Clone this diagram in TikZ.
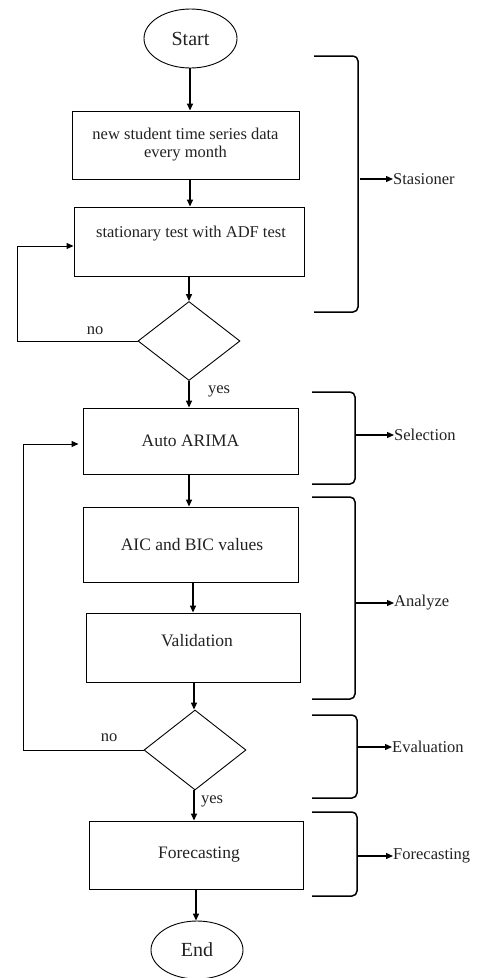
\documentclass[tikz,border=0pt]{standalone}
\usepackage{fontspec}
\setmainfont{Liberation Serif}
\usetikzlibrary{shapes.geometric,arrows.meta}
\definecolor{ink}{HTML}{222222}
\begin{document}
\begin{tikzpicture}[x=1pt,y=-1pt,
  box/.style={draw, line width=0.9pt, inner sep=0pt, align=center, text=ink,
              font=\fontsize{17.5}{20}\selectfont},
  term/.style={draw, ellipse, line width=0.9pt, inner sep=0pt, text=ink,
               font=\fontsize{20}{24}\selectfont},
  decision/.style={draw, diamond, line width=0.9pt, inner sep=0pt},
  flow/.style={line width=1.4pt, -{Triangle[length=7pt,width=6pt]}},
  back/.style={line width=1pt, -{Triangle[length=7pt,width=6pt]}},
  brace/.style={line width=1.5pt, rounded corners=5pt},
  lbl/.style={inner sep=0pt, text=ink, font=\fontsize{16.5}{18}\selectfont},
  tag/.style={anchor=west, inner sep=0pt, text=ink, font=\fontsize{16.5}{18}\selectfont}]
\useasboundingbox (0,0) rectangle (477,978);

% main flow
\node[term, minimum width=93pt, minimum height=59pt] (start) at (190.5,38.5) {Start};
\node[box, minimum width=227pt, minimum height=68pt, font=\fontsize{16.5}{18}\selectfont] (b1) at (185.5,145)
  {new student time series data\\every month};
\node[box, minimum width=230pt, minimum height=69pt] (b2) at (189,241.5) {};
\node[lbl] (b2t) at (191,234) {stationary test with ADF test};
\node[decision, minimum width=102pt, minimum height=79pt] (d1) at (189,341) {};
\node[box, minimum width=215pt, minimum height=66pt] (b3) at (190.5,441) {Auto ARIMA};
\node[box, minimum width=215pt, minimum height=75pt] (b4) at (190.5,544.5) {\hspace*{3pt}AIC and BIC values};
\node[box, minimum width=214pt, minimum height=69pt] (b5) at (193,647.5) {};
\node[lbl, font=\fontsize{17.5}{20}\selectfont] (b5t) at (197,641) {Validation};
\node[decision, minimum width=102pt, minimum height=80pt] (d2) at (195,750) {};
\node[box, minimum width=214pt, minimum height=68pt] (b6) at (196,855) {\hspace*{6pt}Forecasting};
\node[term, minimum width=92pt, minimum height=58pt] (end) at (197,950) {End};

% vertical connectors
\draw[flow] ([xshift=-0.5pt]start.south) -- ([xshift=-0.5pt]start.south |- b1.north);
\draw[flow] (190,179) coordinate (c1) -- (c1 |- b2.north);
\draw[flow] (b2.south) -- (d1.north);
\draw[flow] (d1.south) -- (d1.south |- b3.north);
\draw[flow] ([xshift=-1.5pt]b3.south) -- ([xshift=-1.5pt]b3.south |- b4.north);
\draw[flow] ([xshift=2.5pt]b4.south) -- ([xshift=2.5pt]b4.south |- b5.north);
\draw[flow] ([xshift=1pt]b5.south) -- ([xshift=1pt]b5.south |- d2.north);
\draw[flow] ([xshift=-1pt]d2.south) -- ([xshift=-1pt]d2.south |- b6.north);
\draw[flow] (b6.south) -- (b6.south |- end.north);

% return paths
\draw[back] (d1.west) -- (17,341) |- ([yshift=-4.5pt]b2.west);
\draw[back] (d2.west) -- (23,750) |- ([xshift=-4pt,yshift=-3pt]b3.west);
\node[lbl] (no1) at (95,331) {no};
\node[lbl] (no2) at (109,738) {no};
\node[lbl] (yes1) at (219,391) {yes};
\node[lbl] (yes2) at (212,801) {yes};

% phase brackets and their labels
\draw[brace] (314,56) -- (358,56) -- (358,312) -- (314,312);
\node[tag] (sS) at (393,179) {Stasioner};
\draw[flow, line width=1.3pt] (360,179) -- (sS.west);

\draw[brace] (312,392) -- (355,392) -- (355,484) -- (312,484);
\node[tag] (sSel) at (394,435) {Selection};
\draw[flow, line width=1.3pt] (356,435) -- (sSel.west);

\draw[brace] (312,497) -- (355,497) -- (355,699) -- (312,699);
\node[tag] (sAn) at (394,603) {Analyze};
\draw[flow, line width=1.3pt] (356,603) -- (sAn.west);

\draw[brace] (312,715) -- (357,715) -- (357,798) -- (312,798);
\node[tag] (sEv) at (392,747) {Evaluation};
\draw[flow, line width=1.3pt] (358,747) -- (sEv.west);

\draw[brace] (312,812) -- (357,812) -- (357,896) -- (312,896);
\node[tag] (sFc) at (393,856) {Forecasting};
\draw[flow, line width=1.3pt] (358,856) -- (sFc.west);
\end{tikzpicture}
\end{document}
